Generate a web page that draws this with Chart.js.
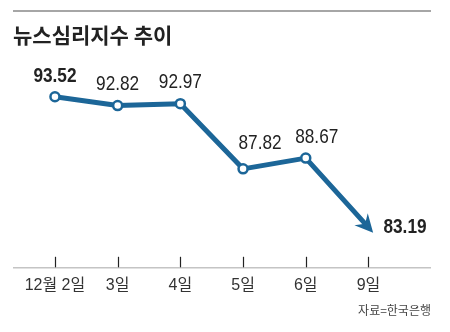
<!DOCTYPE html>
<html>
<head>
<meta charset="utf-8">
<script src="https://cdn.jsdelivr.net/npm/chart.js@4/dist/chart.umd.min.js"></script>
<style>
  html, body { margin: 0; padding: 0; background: #fff; }
  #wrap { position: relative; width: 450px; height: 332px; overflow: hidden; }
  #rule { position: absolute; left: 13px; top: 10px; width: 418px; height: 2px; background: #a6a6a6; }
  #title { position: absolute; left: 13px; top: 22px; font: bold 21px "Noto Sans CJK KR", sans-serif; line-height: 24px; color: #222; }
  #source { position: absolute; right: 19px; top: 302px; font: 12px "Noto Sans CJK KR", sans-serif; line-height: 16px; color: #444; }
  #cv { position: absolute; left: 0; top: 0; width: 450px; height: 332px; }
</style>
</head>
<body>
<div id="wrap">
  <div id="cv"><canvas id="chart"></canvas></div>
  <div id="rule"></div>
  <div id="title">뉴스심리지수 추이</div>
  <div id="source">자료=한국은행</div>
</div>
<script>
const categories = ["12월 2일", "3일", "4일", "5일", "6일", "9일"];
const values = [93.52, 92.82, 92.97, 87.82, 88.67, 83.19];
const valueLabels = ["93.52", "92.82", "92.97", "87.82", "88.67", "83.19"];

const BLUE = "#1c6698";
const NUM_FONT = '"Liberation Sans", Arial, sans-serif';
// label offsets (style only): [dx, dy, align, bold]
const labelStyle = [
  [0, -21, "center", true],
  [0, -21, "center", false],
  [0, -21, "center", false],
  [17, -26, "center", false],
  [11, -21, "center", false],
  [15, 0, "left", true]
];

const decor = {
  id: "decor",
  beforeDatasetsDraw(chart) {
    const ctx = chart.ctx;
    const xs = chart.scales.x, ys = chart.scales.y;
    const y0 = ys.getPixelForValue(80);
    ctx.save();
    ctx.strokeStyle = "#c4c4c4";
    ctx.lineWidth = 1.5;
    ctx.beginPath();
    ctx.moveTo(13, y0);
    ctx.lineTo(431, y0);
    ctx.stroke();
    ctx.strokeStyle = "#222";
    ctx.lineWidth = 1.2;
    categories.forEach((c, i) => {
      const x = Math.round(xs.getPixelForValue(i)) + 0.5;
      ctx.beginPath();
      ctx.moveTo(x, y0 - 11);
      ctx.lineTo(x, y0 - 0.5);
      ctx.stroke();
    });
    ctx.restore();
  },
  afterDatasetsDraw(chart) {
    const ctx = chart.ctx;
    const meta = chart.getDatasetMeta(0);
    const pts = meta.data;
    ctx.save();
    const a = pts[pts.length - 2], b = pts[pts.length - 1];
    const dx = b.x - a.x, dy = b.y - a.y;
    const len = Math.hypot(dx, dy);
    const ux = dx / len, uy = dy / len;
    const nx = -uy, ny = ux;
    const tx = b.x + ux * 7, ty = b.y + uy * 7;
    ctx.fillStyle = BLUE;
    ctx.beginPath();
    ctx.moveTo(tx, ty);
    ctx.lineTo(tx - ux * 18 + nx * 9, ty - uy * 18 + ny * 9);
    ctx.lineTo(tx - ux * 12, ty - uy * 12);
    ctx.lineTo(tx - ux * 18 - nx * 9, ty - uy * 18 - ny * 9);
    ctx.closePath();
    ctx.fill();
    ctx.fillStyle = "#222";
    ctx.textBaseline = "middle";
    pts.forEach((p, i) => {
      const s = labelStyle[i];
      ctx.save();
      ctx.translate(p.x + s[0], p.y + s[1]);
      ctx.scale(0.82, 1);
      ctx.font = (s[3] ? "bold " : "") + "21px " + NUM_FONT;
      ctx.textAlign = s[2];
      ctx.fillText(valueLabels[i], 0, 0);
      ctx.restore();
    });
    ctx.restore();
  }
};

new Chart(document.getElementById("chart"), {
  type: "line",
  data: {
    labels: categories,
    datasets: [{
      data: values,
      borderColor: BLUE,
      borderWidth: 5,
      borderJoinStyle: "round",
      tension: 0,
      pointRadius: [4.5, 4.5, 4.5, 4.5, 4.5, 0],
      pointBackgroundColor: "#fff",
      pointBorderColor: BLUE,
      pointBorderWidth: 2.5,
      clip: false
    }]
  },
  options: {
    responsive: true,
    maintainAspectRatio: false,
    animation: false,
    events: [],
    layout: { padding: { left: 23.6, right: 50.2, top: 78, bottom: 29 } },
    plugins: { legend: { display: false }, tooltip: { enabled: false } },
    scales: {
      x: {
        offset: true,
        border: { display: false },
        grid: { display: false, drawTicks: false },
        ticks: {
          padding: 8,
          color: "#333",
          font: { family: '"Liberation Sans", "Noto Sans CJK KR", sans-serif', size: 16 },
          maxRotation: 0, autoSkip: false
        }
      },
      y: { display: false, min: 80, max: 95 }
    }
  },
  plugins: [decor]
});
</script>
</body>
</html>
